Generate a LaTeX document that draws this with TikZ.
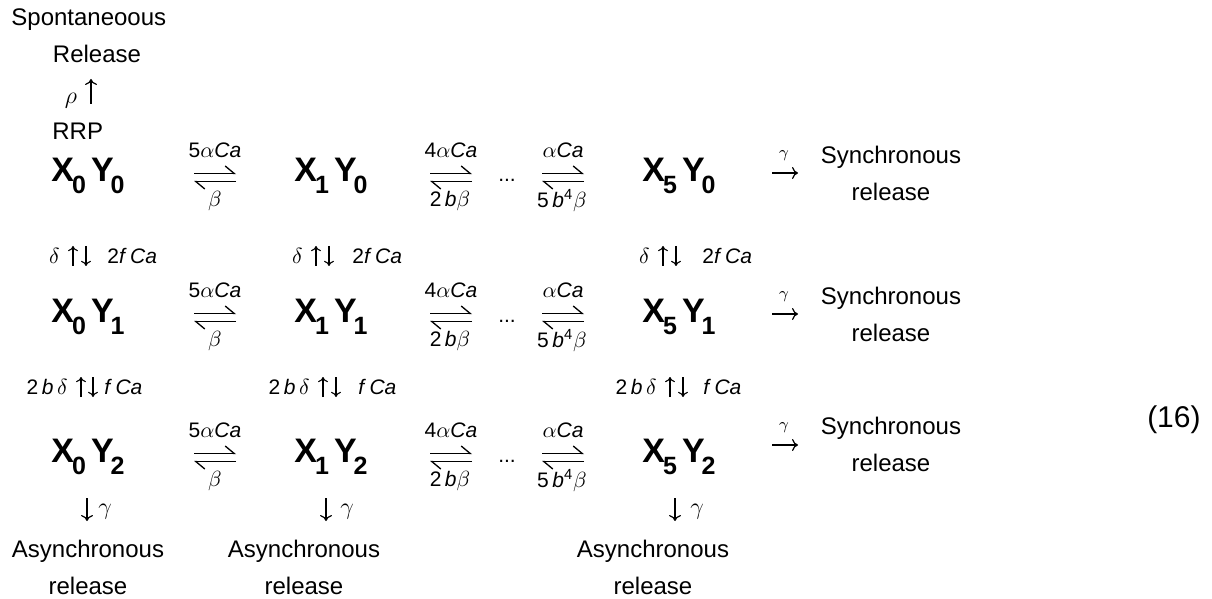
\documentclass[tikz,border=0pt]{standalone}
\usepackage{fontspec}
\setmainfont{Liberation Sans}
\usetikzlibrary{arrows.meta}
\newcommand{\pool}[2]{X\kern-1pt\raisebox{-6pt}{\fontsize{12.5}{12.5}\selectfont#1}\hspace{2.5pt}Y\kern-1.5pt\raisebox{-6pt}{\fontsize{12.5}{12.5}\selectfont#2}}
\tikzset{
    pool/.style={font=\fontsize{17}{17}\selectfont\bfseries,inner sep=0pt,anchor=base},
    rate/.style={font=\fontsize{10.5}{12}\selectfont,inner sep=0pt},
    word/.style={font=\fontsize{12}{18.5}\selectfont,inner sep=0pt,align=center},
    fwd/.style={line width=0.65pt,-{Straight Barb[harpoon,length=4.5pt,width=7.5pt]}},
    rxn/.style={line width=0.6pt,-{Computer Modern Rightarrow[length=3pt,width=6pt]}},
    flip/.style={line width=0.55pt,-{Computer Modern Rightarrow[length=2.6pt,width=5pt]}}
}
\begin{document}
\begin{tikzpicture}[x=5pt,y=5pt]
        \useasboundingbox (0,0) rectangle (121.2,-59.9);
        \node[word,anchor=base west] (spont) at (1.1,-2.6) {Spontaneoous};
        \node[word,anchor=base] (release) at (9.7,-6.3) {Release};
        \node[word] (rho) at (7.1,-10.1) {$\rho$};
        \coordinate (rhoa) at (9.1,-10.4);
        \coordinate (rhob) at (9.1,-7.9);
        \draw[rxn] (rhoa) -- (rhob);
        \node[word,anchor=base west] (rrp) at (5.2,-14.0) {RRP};
        \begin{scope}
            \node[pool] (x0y0) at (8.8,-18.2) {\pool{0}{0}};
            \node[pool] (x1y0) at (33.1,-18.2) {\pool{1}{0}};
            \node[pool] (x5y0) at (67.9,-18.2) {\pool{5}{0}};
            \coordinate (a1l0) at (19.4,-17.75); \coordinate (a1r0) at (23.6,-17.75);
            \coordinate (a2l0) at (43.0,-17.75); \coordinate (a2r0) at (47.2,-17.75);
            \coordinate (a3l0) at (54.2,-17.75); \coordinate (a3r0) at (58.4,-17.75);
            \draw[fwd] ([yshift=2pt]a1l0) -- ([yshift=2pt]a1r0);
            \draw[fwd] ([yshift=-2pt]a1r0) -- ([yshift=-2pt]a1l0);
            \draw[fwd] ([yshift=2pt]a2l0) -- ([yshift=2pt]a2r0);
            \draw[fwd] ([yshift=-2pt]a2r0) -- ([yshift=-2pt]a2l0);
            \draw[fwd] ([yshift=2pt]a3l0) -- ([yshift=2pt]a3r0);
            \draw[fwd] ([yshift=-2pt]a3r0) -- ([yshift=-2pt]a3l0);
            \node[rate] (k10) at (21.5,-15.0) {5$\alpha$\textit{Ca}};
            \node[rate] (q10) at (21.5,-20.1) {$\beta$};
            \node[rate] (k20) at (45.1,-15.0) {4$\alpha$\textit{Ca}};
            \node[rate] (q20) at (45.0,-20.1) {2\,\textit{b}$\beta$};
            \node[rate,anchor=base] (dots0) at (50.7,-18.2) {...};
            \node[rate] (k30) at (56.3,-15.0) {$\alpha$\textit{Ca}};
            \node[rate] (q30) at (56.2,-20.1) {5\,\textit{b}\textsuperscript{4}$\beta$};
            \coordinate (s0l) at (77.2,-17.3); \coordinate (s0r) at (79.8,-17.3);
            \draw[rxn] (s0l) -- (s0r);
            \node[rate,font=\fontsize{8}{8}\selectfont] (g0) at (78.4,-15.6) {$\gamma$};
            \node[word] (sync0) at (89.1,-17.35) {Synchronous\\release};
        \end{scope}
        \begin{scope}[shift={(0,-14)}]
            \node[rate,anchor=east] (d01) at (6.0,-11.6) {$\delta$};
            \node[rate,anchor=west] (f01) at (10.7,-11.6) {2\textit{f}\,\textit{Ca}};
            \coordinate (u0a) at (7.3,-12.6); \coordinate (u0b) at (7.3,-10.6);
            \coordinate (v0a) at (8.6,-10.6); \coordinate (v0b) at (8.6,-12.6);
            \draw[flip] (u0a) -- (u0b); \draw[flip] (v0a) -- (v0b);
            \node[rate,anchor=east] (d11) at (30.3,-11.6) {$\delta$};
            \node[rate,anchor=west] (f11) at (35.2,-11.6) {2\textit{f}\,\textit{Ca}};
            \coordinate (u1a) at (31.6,-12.6); \coordinate (u1b) at (31.6,-10.6);
            \coordinate (v1a) at (32.9,-10.6); \coordinate (v1b) at (32.9,-12.6);
            \draw[flip] (u1a) -- (u1b); \draw[flip] (v1a) -- (v1b);
            \node[rate,anchor=east] (d51) at (65.0,-11.6) {$\delta$};
            \node[rate,anchor=west] (f51) at (70.2,-11.6) {2\textit{f}\,\textit{Ca}};
            \coordinate (u5a) at (66.3,-12.6); \coordinate (u5b) at (66.3,-10.6);
            \coordinate (v5a) at (67.6,-10.6); \coordinate (v5b) at (67.6,-12.6);
            \draw[flip] (u5a) -- (u5b); \draw[flip] (v5a) -- (v5b);
            \node[pool] (x0y1) at (8.8,-18.2) {\pool{0}{1}};
            \node[pool] (x1y1) at (33.1,-18.2) {\pool{1}{1}};
            \node[pool] (x5y1) at (67.9,-18.2) {\pool{5}{1}};
            \coordinate (a1l1) at (19.4,-17.75); \coordinate (a1r1) at (23.6,-17.75);
            \coordinate (a2l1) at (43.0,-17.75); \coordinate (a2r1) at (47.2,-17.75);
            \coordinate (a3l1) at (54.2,-17.75); \coordinate (a3r1) at (58.4,-17.75);
            \draw[fwd] ([yshift=2pt]a1l1) -- ([yshift=2pt]a1r1);
            \draw[fwd] ([yshift=-2pt]a1r1) -- ([yshift=-2pt]a1l1);
            \draw[fwd] ([yshift=2pt]a2l1) -- ([yshift=2pt]a2r1);
            \draw[fwd] ([yshift=-2pt]a2r1) -- ([yshift=-2pt]a2l1);
            \draw[fwd] ([yshift=2pt]a3l1) -- ([yshift=2pt]a3r1);
            \draw[fwd] ([yshift=-2pt]a3r1) -- ([yshift=-2pt]a3l1);
            \node[rate] (k11) at (21.5,-15.0) {5$\alpha$\textit{Ca}};
            \node[rate] (q11) at (21.5,-20.1) {$\beta$};
            \node[rate] (k21) at (45.1,-15.0) {4$\alpha$\textit{Ca}};
            \node[rate] (q21) at (45.0,-20.1) {2\,\textit{b}$\beta$};
            \node[rate,anchor=base] (dots1) at (50.7,-18.2) {...};
            \node[rate] (k31) at (56.3,-15.0) {$\alpha$\textit{Ca}};
            \node[rate] (q31) at (56.2,-20.1) {5\,\textit{b}\textsuperscript{4}$\beta$};
            \coordinate (s1l) at (77.2,-17.4); \coordinate (s1r) at (79.8,-17.4);
            \draw[rxn] (s1l) -- (s1r);
            \node[rate,font=\fontsize{8}{8}\selectfont] (g1) at (78.4,-15.7) {$\gamma$};
            \node[word] (sync1) at (89.1,-17.4) {Synchronous\\release};
        \end{scope}
        \begin{scope}[shift={(0,-28)}]
            \node[rate,anchor=east] (d02) at (6.8,-10.7) {2\,\textit{b}\,$\delta$};
            \node[rate,anchor=west] (f02) at (10.4,-10.7) {\textit{f}\,\textit{Ca}};
            \coordinate (u0c) at (8.1,-11.7); \coordinate (u0d) at (8.1,-9.7);
            \coordinate (v0c) at (9.3,-9.7); \coordinate (v0d) at (9.3,-11.7);
            \draw[flip] (u0c) -- (u0d); \draw[flip] (v0c) -- (v0d);
            \node[rate,anchor=east] (d12) at (31.0,-10.7) {2\,\textit{b}\,$\delta$};
            \node[rate,anchor=west] (f12) at (35.8,-10.7) {\textit{f}\,\textit{Ca}};
            \coordinate (u1c) at (32.3,-11.7); \coordinate (u1d) at (32.3,-9.7);
            \coordinate (v1c) at (33.6,-9.7); \coordinate (v1d) at (33.6,-11.7);
            \draw[flip] (u1c) -- (u1d); \draw[flip] (v1c) -- (v1d);
            \node[rate,anchor=east] (d52) at (65.7,-10.7) {2\,\textit{b}\,$\delta$};
            \node[rate,anchor=west] (f52) at (70.3,-10.7) {\textit{f}\,\textit{Ca}};
            \coordinate (u5c) at (67.0,-11.7); \coordinate (u5d) at (67.0,-9.7);
            \coordinate (v5c) at (68.3,-9.7); \coordinate (v5d) at (68.3,-11.7);
            \draw[flip] (u5c) -- (u5d); \draw[flip] (v5c) -- (v5d);
            \node[pool] (x0y2) at (8.8,-18.2) {\pool{0}{2}};
            \node[pool] (x1y2) at (33.1,-18.2) {\pool{1}{2}};
            \node[pool] (x5y2) at (67.9,-18.2) {\pool{5}{2}};
            \coordinate (a1l2) at (19.4,-17.75); \coordinate (a1r2) at (23.6,-17.75);
            \coordinate (a2l2) at (43.0,-17.75); \coordinate (a2r2) at (47.2,-17.75);
            \coordinate (a3l2) at (54.2,-17.75); \coordinate (a3r2) at (58.4,-17.75);
            \draw[fwd] ([yshift=2pt]a1l2) -- ([yshift=2pt]a1r2);
            \draw[fwd] ([yshift=-2pt]a1r2) -- ([yshift=-2pt]a1l2);
            \draw[fwd] ([yshift=2pt]a2l2) -- ([yshift=2pt]a2r2);
            \draw[fwd] ([yshift=-2pt]a2r2) -- ([yshift=-2pt]a2l2);
            \draw[fwd] ([yshift=2pt]a3l2) -- ([yshift=2pt]a3r2);
            \draw[fwd] ([yshift=-2pt]a3r2) -- ([yshift=-2pt]a3l2);
            \node[rate] (k12) at (21.5,-15.0) {5$\alpha$\textit{Ca}};
            \node[rate] (q12) at (21.5,-20.1) {$\beta$};
            \node[rate] (k22) at (45.1,-15.0) {4$\alpha$\textit{Ca}};
            \node[rate] (q22) at (45.0,-20.1) {2\,\textit{b}$\beta$};
            \node[rate,anchor=base] (dots2) at (50.7,-18.2) {...};
            \node[rate] (k32) at (56.3,-15.0) {$\alpha$\textit{Ca}};
            \node[rate] (q32) at (56.2,-20.1) {5\,\textit{b}\textsuperscript{4}$\beta$};
            \coordinate (s2l) at (77.2,-16.5); \coordinate (s2r) at (79.8,-16.5);
            \draw[rxn] (s2l) -- (s2r);
            \node[rate,font=\fontsize{8}{8}\selectfont] (g2) at (78.4,-14.8) {$\gamma$};
            \node[word] (sync2) at (89.1,-16.45) {Synchronous\\release};
        \end{scope}
        \coordinate (w0a) at (8.7,-49.8); \coordinate (w0b) at (8.7,-52.1);
        \coordinate (w1a) at (32.6,-49.8); \coordinate (w1b) at (32.6,-52.1);
        \coordinate (w5a) at (67.5,-49.8); \coordinate (w5b) at (67.5,-52.1);
        \draw[rxn] (w0a) -- (w0b); \draw[rxn] (w1a) -- (w1b); \draw[rxn] (w5a) -- (w5b);
        \node[word] (gw0) at (10.5,-51.2) {$\gamma$};
        \node[word] (gw1) at (34.7,-51.2) {$\gamma$};
        \node[word] (gw5) at (69.7,-51.2) {$\gamma$};
        \node[word] (async0) at (8.8,-56.7) {Asynchronous\\release};
        \node[word] (async1) at (30.4,-56.7) {Asynchronous\\release};
        \node[word] (async5) at (65.3,-56.7) {Asynchronous\\release};
        \node[font=\fontsize{15}{15}\selectfont,inner sep=0pt,anchor=base east] (eqno) at (120.1,-42.7) {(16)};
\end{tikzpicture}
\end{document}
